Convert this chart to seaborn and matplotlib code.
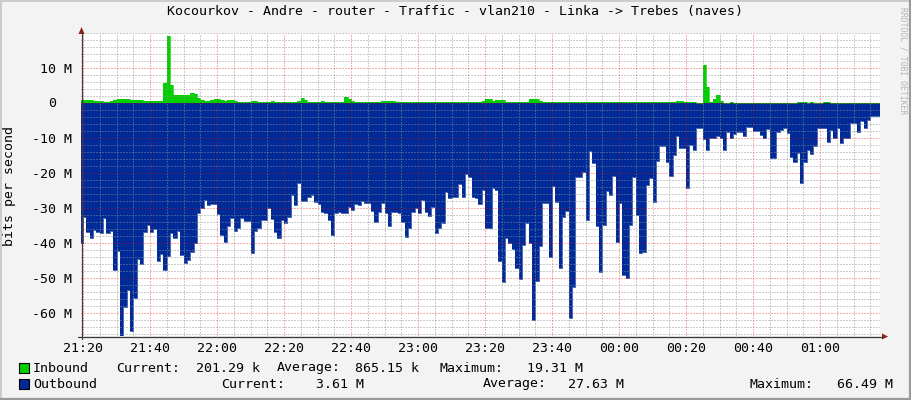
import matplotlib
matplotlib.use("Agg")
import numpy as np
import pandas as pd
import matplotlib.pyplot as plt
import matplotlib.dates as mdates
from matplotlib.ticker import MultipleLocator, FixedLocator
from matplotlib.lines import Line2D
from matplotlib.patches import Rectangle, Polygon
import seaborn as sns

# ---------------- data ----------------
title = "Kocourkov - Andre - router - Traffic - vlan210 - Linka -> Trebes (naves)"
y_label = "bits per second"
watermark = "RRDTOOL / TOBI OETIKER"
start_time = "2024-01-01 21:19"
view_start = "2024-01-01 21:19:24"
view_end = "2024-01-02 01:17:54"

# Inbound traffic, Mbit/s, one value per minute
inbound_mbps = [
    0.9, 0.9, 0.9, 0.85, 0.8, 0.75, 0.6, 0.5, 0.5, 0.7,
    0.9, 1.1, 1.3, 1.3, 1.1, 1.0, 0.9, 1.0, 1.0, 0.8,
    0.8, 0.8, 0.8, 0.8, 0.8,
    5.7, 19.31, 5.2, 2.5, 2.4, 2.4, 2.3, 2.4, 2.9, 2.7, 1.6, 1.0,
    0.8, 0.8, 0.9, 1.1, 1.1, 1.0, 0.8, 0.9, 0.9, 0.7, 0.5, 0.5,
    0.5, 0.5, 0.6, 0.6, 0.5, 0.5, 0.5, 0.5, 0.6, 0.5, 0.5, 0.5, 0.5, 0.5, 0.5, 0.5,
    0.6, 1.6, 0.9, 0.5, 0.5,
    0.5, 0.5, 0.6, 0.5, 0.5, 0.5, 0.5, 0.5, 0.5,
    1.9, 1.2, 0.6,
    0.5, 0.5, 0.5, 0.5, 0.5, 0.5, 0.5, 0.5,
    0.6, 0.7, 0.7, 0.7,
    0.5, 0.5, 0.5, 0.5, 0.5, 0.5,
    0.4, 0.4, 0.4, 0.45, 0.4, 0.4, 0.4, 0.4, 0.4, 0.45,
    0.4, 0.4, 0.4, 0.4, 0.4, 0.4, 0.45, 0.4, 0.4, 0.4,
    0.6, 1.1, 1.1, 0.6, 0.9, 0.9, 0.9,
    0.5, 0.5, 0.5, 0.5, 0.5, 0.5, 0.5,
    1.2, 1.2, 1.2, 0.8,
    0.3, 0.3, 0.3, 0.35, 0.3, 0.3, 0.3, 0.3, 0.3, 0.35,
    0.3, 0.3, 0.3, 0.3, 0.3, 0.35, 0.3, 0.3, 0.3, 0.3,
    0.3, 0.3, 0.35, 0.3, 0.3, 0.3, 0.3, 0.3, 0.3, 0.3,
    0.35, 0.3, 0.3, 0.3, 0.3, 0.3, 0.3, 0.35, 0.3, 0.3,
    0.67, 0.67,
    0.3, 0.3, 0.3, 0.3, 0.2, 0.2,
    11.0, 4.8, 0.4, 1.1, 2.4, 0.76,
    0.2, 0.2,
    0.5,
    0.15, 0.15, 0.15, 0.15, 0.15, 0.15, 0.15, 0.15, 0.15, 0.15,
    0.15, 0.15, 0.15, 0.15, 0.15, 0.15, 0.15, 0.15, 0.15,
    0.4, 0.4, 0.4,
    0.15,
    0.4,
    0.15, 0.15, 0.15,
    0.4, 0.4,
    0.15, 0.15, 0.15, 0.15, 0.15, 0.15, 0.15, 0.15,
    0.15, 0.15, 0.15, 0.15, 0.15, 0.15, 0.15, 0.2,
]

# Outbound traffic, Mbit/s, one value per minute (plotted below zero)
outbound_mbps = [
    40.0, 32.4, 36.7, 38.6, 36.2, 36.9, 37.1, 32.7, 37.1, 36.5,
    47.6, 42.2, 66.4, 58.3, 53.3, 65.0, 55.5, 44.5, 46.0, 36.7,
    34.8, 36.7, 35.9, 45.2, 43.1, 47.6, 43.5, 37.1, 38.4, 36.5,
    43.3, 45.7, 44.8, 42.4, 40.0, 31.4, 30.0, 27.6, 29.2, 28.9,
    28.9, 31.7, 37.6, 39.5, 35.2, 32.9, 36.5, 35.5, 32.7, 33.6,
    33.6, 42.9, 36.5, 35.5, 33.3, 33.3, 30.0, 33.0, 36.9, 38.5,
    33.3, 34.3, 32.4, 26.2, 29.0, 22.9, 27.9, 27.9, 26.7, 26.2,
    28.3, 28.9, 31.0, 31.4, 33.3, 37.6, 31.4, 31.0, 31.4, 31.4,
    29.5, 30.5, 28.9, 29.0, 27.9, 28.6, 28.6, 30.8, 33.8, 31.1,
    28.6, 31.4, 35.2, 31.2, 31.0, 31.4, 33.8, 38.1, 35.7, 31.0,
    30.0, 31.4, 27.6, 31.0, 32.1, 29.5, 37.1, 35.7, 34.3, 25.4,
    27.1, 26.7, 26.7, 23.1, 26.7, 20.3, 21.0, 26.7, 27.1, 28.9,
    24.8, 35.7, 35.7, 24.3, 24.8, 45.2, 51.1, 38.6, 40.0, 41.6,
    47.0, 50.3, 40.5, 34.3, 40.0, 61.9, 50.9, 40.7, 28.6, 28.6,
    43.8, 23.5, 28.1, 47.0, 32.4, 30.8, 61.4, 52.4, 21.0, 21.0,
    19.7, 33.3, 13.6, 17.1, 35.0, 48.3, 34.8, 25.2, 26.2, 20.7,
    39.7, 28.6, 49.0, 49.8, 34.8, 21.0, 31.9, 42.9, 42.4, 23.3,
    21.2, 28.3, 16.4, 12.1, 12.1, 16.7, 20.7, 14.8, 9.2, 12.9,
    12.9, 24.3, 12.0, 13.3, 7.1, 7.1, 10.2, 13.3, 10.0, 10.0,
    9.2, 9.8, 13.3, 8.1, 9.8, 8.9, 8.3, 8.3, 9.2, 6.7,
    6.7, 7.9, 7.9, 9.0, 9.8, 7.3, 15.7, 15.7, 8.1, 7.6,
    7.1, 8.6, 15.2, 16.7, 14.3, 22.9, 16.7, 13.3, 14.6, 12.1,
    7.1, 7.1, 7.1, 11.1, 7.6, 10.0, 7.1, 11.4, 10.0, 10.0,
    5.7, 5.7, 8.3, 5.0, 7.1, 4.8, 3.5, 3.5, 3.5, 3.5,
]

y_ticks = [-60, -50, -40, -30, -20, -10, 0, 10]
y_tick_labels = ["-60 M", "-50 M", "-40 M", "-30 M", "-20 M", "-10 M", "0", "10 M"]
x_tick_times = ["2024-01-01 21:20", "2024-01-01 21:40", "2024-01-01 22:00",
                "2024-01-01 22:20", "2024-01-01 22:40", "2024-01-01 23:00",
                "2024-01-01 23:20", "2024-01-01 23:40", "2024-01-02 00:00",
                "2024-01-02 00:20", "2024-01-02 00:40", "2024-01-02 01:00"]
x_tick_labels = ["21:20", "21:40", "22:00", "22:20", "22:40", "23:00",
                 "23:20", "23:40", "00:00", "00:20", "00:40", "01:00"]

series_names = ["Inbound", "Outbound"]
series_colors = ["#00CF00", "#002A97"]
inbound_stats = ["Current:", "201.29 k", "Average:", "865.15 k", "Maximum:", "19.31 M"]
outbound_stats = ["Current:", "3.61 M", "Average:", "27.63 M", "Maximum:", "66.49 M"]

# ---------------- plotting ----------------
W, H = 911, 400
sns.set_theme(style="white")
plt.rcParams["font.family"] = ["DejaVu Sans Mono", "DejaVu Sans"]
FS = 9.5

def fx(px):
    return px / W

def fy(py):
    return 1 - py / H

times = pd.date_range(start_time, periods=len(outbound_mbps), freq="1min")
df = pd.DataFrame({
    "time": times,
    "inbound": np.array(inbound_mbps[:len(times)]),
    "outbound": -np.array(outbound_mbps),
})

fig = plt.figure(figsize=(W / 100, H / 100), dpi=100, facecolor="#F3F3F3")
ax = fig.add_axes([fx(81), fy(336), fx(880) - fx(81), fy(33) - fy(336)])
ax.set_facecolor("white")

ax.fill_between(df["time"], 0, df["outbound"], step="post", color=series_colors[1], lw=0, zorder=1)
ax.fill_between(df["time"], 0, df["inbound"], step="post", color=series_colors[0], lw=0, zorder=1)
sns.lineplot(data=df, x="time", y="outbound", drawstyle="steps-post", color=series_colors[1],
             lw=0.5, ax=ax, zorder=1.2)
sns.lineplot(data=df, x="time", y="inbound", drawstyle="steps-post", color=series_colors[0],
             lw=0.5, ax=ax, zorder=1.2)

ax.set_xlim(pd.Timestamp(view_start), pd.Timestamp(view_end))
ax.set_ylim(-66.5, 20.1)

# ticks & grid
ax.xaxis.set_major_locator(FixedLocator(mdates.date2num(pd.to_datetime(x_tick_times))))
ax.set_xticklabels(x_tick_labels)
ax.xaxis.set_minor_locator(mdates.MinuteLocator(byminute=range(0, 60, 5)))
ax.set_yticks(y_ticks)
ax.set_yticklabels([lab if lab != "0" else "" for lab in y_tick_labels])
ax.yaxis.set_minor_locator(MultipleLocator(2))
ax.tick_params(axis="both", which="both", length=0, labelsize=FS, colors="black")
ax.tick_params(axis="x", which="major", pad=4)
ax.tick_params(axis="y", which="major", pad=6.5)
ax.set_xlabel("")
ax.set_ylabel("")

ax.set_axisbelow(False)
ax.grid(which="minor", color="#8F8F8F", alpha=0.45, lw=1.0, ls=(0, (1, 1)), antialiased=False)
ax.grid(which="major", color="#F00000", alpha=0.32, lw=1.0, ls=(0, (1, 1)), antialiased=False)
for s in ax.spines.values():
    s.set_visible(False)

# the zero label sits two character cells to the left, as rrdtool pads it
zero_y = ax.transData.transform((0, 0))[1]
fig.text(fx(56), zero_y / H, "0", ha="right", va="center", fontsize=FS, color="black")

# axes lines with arrows (rrdtool style)
axis_col = "#3a3a3a"
arrow_col = "#9b1c1c"
fig.add_artist(Line2D([fx(81.5), fx(81.5)], [fy(339), fy(31)], color=axis_col, lw=0.9))
fig.add_artist(Line2D([fx(78), fx(884)], [fy(336.5), fy(336.5)], color=axis_col, lw=0.9))
fig.add_artist(Polygon([[fx(81.5), fy(27)], [fx(78.5), fy(34)], [fx(84.5), fy(34)]],
                       closed=True, color=arrow_col, lw=0))
fig.add_artist(Polygon([[fx(888), fy(336.5)], [fx(882), fy(333.5)], [fx(882), fy(339.5)]],
                       closed=True, color=arrow_col, lw=0))

# texts
fig.text(fx(455), fy(12), title, ha="center", va="center", fontsize=FS, color="black")
fig.text(fx(10), fy(186), y_label, ha="center", va="center", rotation=90, fontsize=FS, color="black")
fig.text(fx(903), fy(61), watermark, ha="center", va="center", rotation=270, fontsize=5.8,
         color="#b4b4b4")

# legend
row_y = [368, 384]
name_x = 33
inb_x = [117, 197, 278, 356, 440, 528]
outb_x = [222, 317, 484, 569, 750, 838]
for name, col, yy, stats, xs in zip(series_names, series_colors, row_y,
                                     [inbound_stats, outbound_stats], [inb_x, outb_x]):
    fig.add_artist(Rectangle((fx(18.5), fy(yy + 5)), fx(10), fy(0) - fy(10),
                             facecolor=col, edgecolor="black", lw=0.8))
    fig.text(fx(name_x), fy(yy), name, ha="left", va="center", fontsize=FS, color="black")
    for s, xx in zip(stats, xs):
        fig.text(fx(xx - 1), fy(yy), s, ha="left", va="center", fontsize=FS, color="black")

# frame shading
fig.add_artist(Line2D([0, 1], [fy(0.5), fy(0.5)], color="#CBCBCB", lw=1.4))
fig.add_artist(Line2D([fx(0.5), fx(0.5)], [0, 1], color="#CBCBCB", lw=1.4))
fig.add_artist(Line2D([0, 1], [fy(399), fy(399)], color="#999999", lw=1.6))
fig.add_artist(Line2D([fx(910), fx(910)], [0, 1], color="#999999", lw=1.6))

fig.savefig("out.png", dpi=100, facecolor=fig.get_facecolor())
